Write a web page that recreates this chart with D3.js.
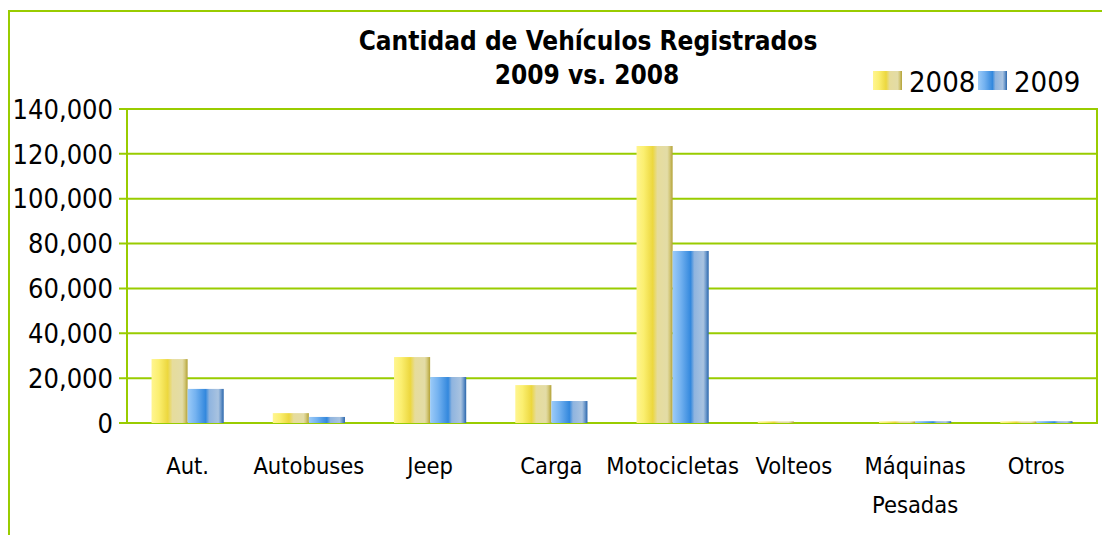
<!DOCTYPE html>
<html>
<head>
<meta charset="utf-8">
<script src="https://cdn.jsdelivr.net/npm/d3@7"></script>
<style>
  body { margin: 0; background: #fff; }
  text { font-family: "DejaVu Sans Condensed", "DejaVu Sans", sans-serif; fill: #000; }
</style>
</head>
<body>
<div id="chart"></div>
<script>
// data
var categories = ["Aut.", "Autobuses", "Jeep", "Carga", "Motocicletas", "Volteos", "Máquinas Pesadas", "Otros"];
var series = ["2008", "2009"];
var values2008 = [28500, 4400, 29400, 16900, 123500, 700, 700, 700];
var values2009 = [15200, 2700, 20500, 9800, 76700, 0, 800, 800];
var yTicks = [0, 20000, 40000, 60000, 80000, 100000, 120000, 140000];

var W = 1102, H = 535;
var margin = {left: 127, top: 109, right: 5, bottom: 112};
var green = "#99cc00";

var svg = d3.select("#chart")
  .append("svg")
    .attr("width", W)
    .attr("height", H);

// gradients for the cylinder look
var defs = svg.append("defs");
var grads = {
  "2008": [["0%", "#fff590"], ["20%", "#fbef70"], ["45%", "#ecd73e"], ["58%", "#e6dc9c"], ["85%", "#e3dca6"], ["91%", "#d6cb80"], ["100%", "#b3a236"]],
  "2009": [["0%", "#9ccbf8"], ["22%", "#74b2f0"], ["50%", "#3388dd"], ["60%", "#8fb4df"], ["85%", "#a9c3e0"], ["91%", "#7aa2d0"], ["100%", "#2a66ac"]]
};
series.forEach(function(s) {
  defs.append("linearGradient")
    .attr("id", "grad" + s)
    .attr("x1", 0).attr("y1", 0).attr("x2", 1).attr("y2", 0)
    .selectAll("stop")
      .data(grads[s])
    .enter().append("stop")
      .attr("offset", function(d) { return d[0]; })
      .attr("stop-color", function(d) { return d[1]; });
});

// outer frame
svg.append("rect")
  .attr("x", 9).attr("y", 11)
  .attr("width", W + 20).attr("height", H + 20)
  .attr("fill", "none")
  .attr("stroke", green)
  .attr("stroke-width", 2);

// title
svg.append("text")
  .attr("x", 588).attr("y", 50)
  .attr("text-anchor", "middle")
  .style("font-weight", "bold")
  .style("font-size", "26px")
  .text("Cantidad de Vehículos Registrados");
svg.append("text")
  .attr("x", 587).attr("y", 84)
  .attr("text-anchor", "middle")
  .style("font-weight", "bold")
  .style("font-size", "26px")
  .text("2009 vs. 2008");

var x0 = d3.scaleBand()
  .domain(categories)
  .range([margin.left, W - margin.right])
  .padding(0);

var x1 = d3.scaleBand()
  .domain(series)
  .range([0, x0.bandwidth()])
  .paddingInner(0)
  .paddingOuter(0.68);

var y = d3.scaleLinear()
  .domain([0, 140000])
  .range([H - margin.bottom, margin.top]);

// gridlines
svg.append("g")
  .selectAll("line")
  .data(yTicks)
  .enter().append("line")
    .attr("x1", margin.left - 8)
    .attr("x2", W - margin.right)
    .attr("y1", function(d) { return y(d); })
    .attr("y2", function(d) { return y(d); })
    .attr("stroke", green)
    .attr("stroke-width", 2);

// plot frame
svg.append("rect")
  .attr("x", margin.left).attr("y", margin.top)
  .attr("width", W - margin.right - margin.left)
  .attr("height", y(0) - margin.top)
  .attr("fill", "none")
  .attr("stroke", green)
  .attr("stroke-width", 2);

// Y axis labels
var fmt = d3.format(",");
svg.append("g")
  .selectAll("text")
  .data(yTicks)
  .enter().append("text")
    .attr("x", 113)
    .attr("y", function(d) { return y(d); })
    .attr("dy", "0.36em")
    .attr("text-anchor", "end")
    .style("font-size", "27px")
    .text(function(d) { return fmt(d); });

// bars
var rows = categories.map(function(c, i) {
  return {cat: c, vals: [{s: "2008", v: values2008[i]}, {s: "2009", v: values2009[i]}]};
});

var groups = svg.append("g")
  .selectAll("g")
  .data(rows)
  .enter().append("g")
    .attr("transform", function(d) { return "translate(" + x0(d.cat) + ",0)"; });

groups.selectAll("rect")
  .data(function(d) { return d.vals; })
  .enter().append("rect")
    .attr("x", function(d) { return x1(d.s); })
    .attr("y", function(d) { return y(d.v); })
    .attr("width", x1.bandwidth())
    .attr("height", function(d) { return y(0) - y(d.v); })
    .attr("fill", function(d) { return "url(#grad" + d.s + ")"; });

// category labels
var labels = svg.append("g")
  .selectAll("text")
  .data(categories)
  .enter().append("text")
    .attr("x", function(d) { return x0(d) + x0.bandwidth() / 2; })
    .attr("y", 474)
    .attr("text-anchor", "middle")
    .style("font-size", "23.5px");
labels.each(function(d) {
  var words = d.split(" ");
  var t = d3.select(this);
  words.forEach(function(w, i) {
    t.append("tspan")
      .attr("x", x0(d) + x0.bandwidth() / 2)
      .attr("dy", i == 0 ? 0 : 39)
      .text(w);
  });
});

// legend
var legX = [873, 978];
series.forEach(function(s, i) {
  svg.append("rect")
    .attr("x", legX[i]).attr("y", 71)
    .attr("width", 29).attr("height", 19)
    .attr("fill", "url(#grad" + s + ")");
  svg.append("text")
    .attr("x", legX[i] + 36).attr("y", 92)
    .style("font-size", "29px")
    .text(s);
});
</script>
</body>
</html>
